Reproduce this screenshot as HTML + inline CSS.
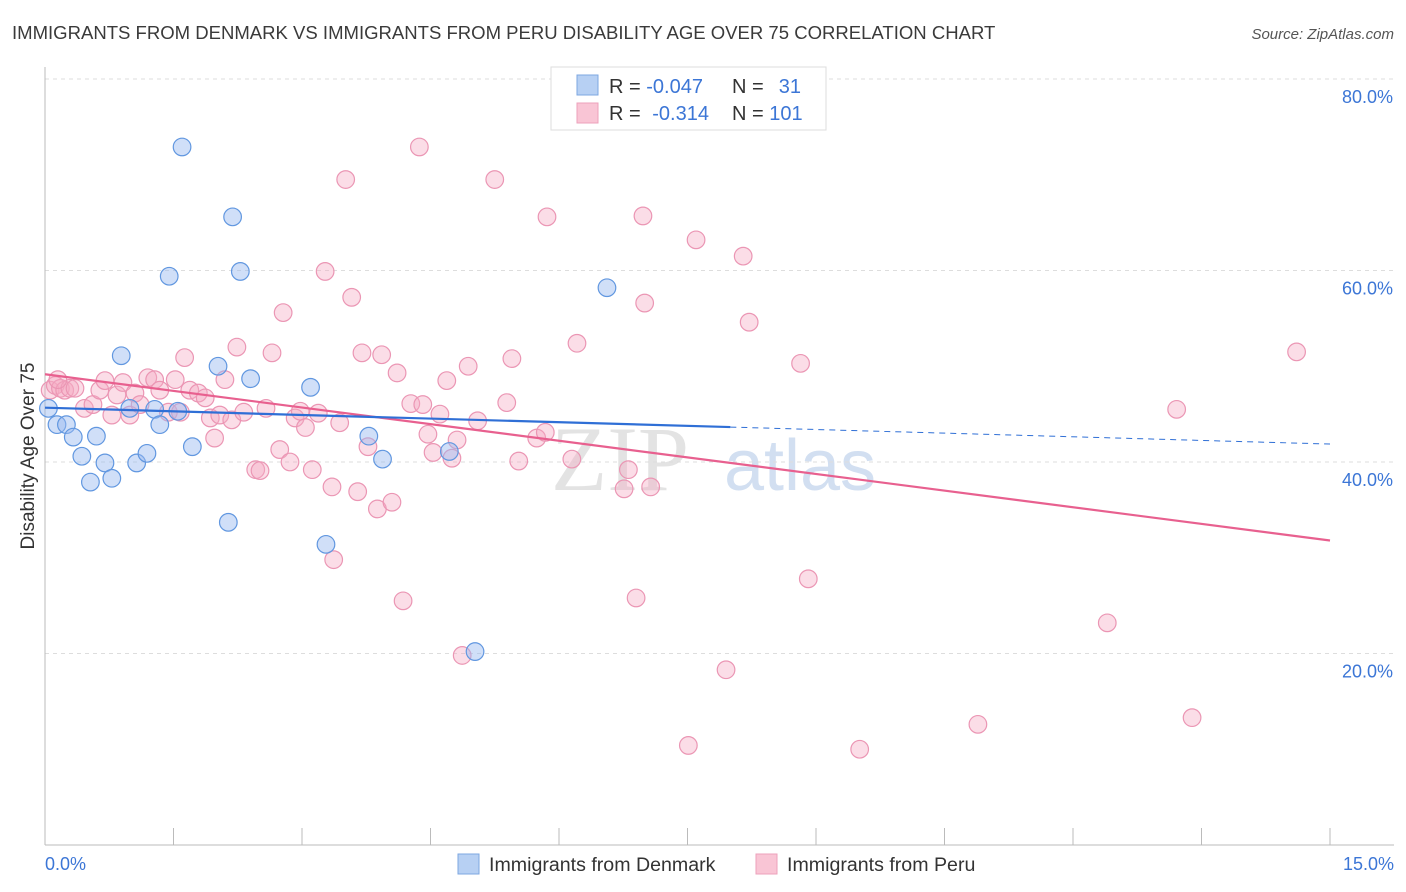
<!DOCTYPE html>
<html><head><meta charset="utf-8"><style>
body{margin:0;background:#fff;font-family:"Liberation Sans",sans-serif;}
svg{display:block}
</style></head><body>
<svg id="chart" width="1406" height="892">
<text x="12" y="39" font-size="18.55" fill="#3a3a3a">IMMIGRANTS FROM DENMARK VS IMMIGRANTS FROM PERU DISABILITY AGE OVER 75 CORRELATION CHART</text>
<text x="1394" y="39" font-size="15" fill="#555" text-anchor="end" font-style="italic">Source: ZipAtlas.com</text>
<text x="34" y="456" font-size="19" fill="#333" text-anchor="middle" transform="rotate(-90 34 456)">Disability Age Over 75</text>
<g><text x="620" y="490" font-size="92" fill="#ddd" text-anchor="middle" font-family="Liberation Serif,serif" opacity="0.8">ZIP</text><text x="800" y="490" font-size="72" fill="#c8d8ee" text-anchor="middle" opacity="0.8">atlas</text></g>
<g id="grid"></g><g id="axes"></g><g id="pts"></g><g id="lines"></g>
<g>
<rect x="551" y="67" width="275" height="63" fill="#fff" stroke="#ddd"/>
<rect x="577" y="75" width="21" height="20" fill="#b7d0f3" stroke="#7ea7e0"/>
<rect x="577" y="103" width="21" height="20" fill="#f9c5d5" stroke="#eda1bb"/>
<text x="609" y="93" font-size="20" fill="#333">R = <tspan fill="#3c76d6">-0.047</tspan></text>
<text x="732" y="93" font-size="20" fill="#333">N = </text><text x="801" y="93" font-size="20" fill="#3c76d6" text-anchor="end">31</text>
<text x="609" y="120" font-size="20" fill="#333">R = <tspan fill="#3c76d6" dx="6">-0.314</tspan></text>
<text x="732" y="120" font-size="20" fill="#333">N = <tspan fill="#3c76d6">101</tspan></text>
</g>
<g>
<rect x="458" y="854" width="21" height="20" fill="#b7d0f3" stroke="#7ea7e0"/>
<text x="489" y="871" font-size="19.6" fill="#333">Immigrants from Denmark</text>
<rect x="756" y="854" width="21" height="20" fill="#f9c5d5" stroke="#eda1bb"/>
<text x="787" y="871" font-size="19.6" fill="#333">Immigrants from Peru</text>
</g>
</svg>
<script>
const yTicks=[20,40,60,80];
const yTickLabels=["20.0%","40.0%","60.0%","80.0%"];
const xTickLabels=["0.0%","15.0%"];
const denmarkX=[0.14,0.25,0.33,0.43,0.53,0.60,0.70,0.78,0.89,0.99,1.07,1.19,1.28,1.34,1.45,1.55,1.60,1.72,2.02,2.14,2.19,2.28,2.40,3.10,3.28,3.78,3.94,4.72,5.02,6.56,0.04];
const denmarkY=[43.9,43.9,42.6,40.6,37.9,42.7,39.9,38.3,51.1,45.6,39.9,40.9,45.5,43.9,59.4,45.3,72.9,41.6,50.0,33.7,65.6,59.9,48.7,47.8,31.4,42.7,40.3,41.1,20.2,58.2,45.6];
const peruX=[0.06,0.12,0.18,0.23,0.29,0.35,0.15,0.46,0.56,0.64,0.70,0.78,0.84,0.91,0.99,1.05,1.11,1.20,1.28,1.34,1.44,1.52,1.58,1.63,1.69,1.79,1.87,1.93,1.98,2.04,2.10,2.18,2.24,2.32,2.46,2.51,2.58,2.65,2.74,2.78,2.86,2.92,2.98,3.04,3.12,3.19,3.27,3.35,3.37,3.44,3.51,3.58,3.65,3.70,3.77,3.88,3.93,4.05,4.11,4.18,4.27,4.37,4.41,4.47,4.53,4.61,4.69,4.75,4.81,4.87,4.94,5.05,5.25,5.39,5.45,5.53,5.74,5.84,5.86,6.15,6.21,6.76,6.81,6.90,6.98,7.00,7.07,7.51,7.60,7.95,8.15,8.22,8.82,8.91,9.51,10.89,12.40,13.21,13.39,14.61];
const peruY=[47.5,48.0,47.7,47.5,47.7,47.7,48.6,45.6,46.0,47.5,48.5,44.9,47.0,48.3,44.9,47.2,46.0,48.8,48.6,47.5,45.2,48.6,45.2,50.9,47.5,47.2,46.7,44.6,42.5,44.9,48.6,44.4,52.0,45.2,39.2,39.1,45.6,51.4,41.3,55.6,40.0,44.6,45.3,43.6,39.2,45.1,59.9,37.4,29.8,44.1,69.5,57.2,36.9,51.4,41.6,35.1,51.2,35.8,49.3,25.5,46.1,72.9,46.0,42.9,41.0,45.0,48.5,40.4,42.3,19.8,50.0,44.3,69.5,46.2,50.8,40.1,42.5,43.1,65.6,40.3,52.4,37.2,39.2,25.8,65.7,56.6,37.4,10.4,63.2,18.3,61.5,54.6,50.3,27.8,10.0,12.6,23.2,45.5,13.3,51.5];
const NS="http://www.w3.org/2000/svg";
const X0=45,X1=1330,Y0=845,PXPER=191.5/20;
const sx=v=>X0+(v/15)*(X1-X0);
const sy=v=>Y0-v*PXPER;
function mk(tag,attrs,parent){const e=document.createElementNS(NS,tag);for(const k in attrs)e.setAttribute(k,attrs[k]);parent.appendChild(e);return e;}
const grid=document.getElementById('grid'),axes=document.getElementById('axes'),pts=document.getElementById('pts'),lines=document.getElementById('lines');
yTicks.forEach((t,i)=>{
 const l=mk('line',{x1:X0,x2:1394,y1:sy(t),y2:sy(t),stroke:'#ddd','stroke-dasharray':'4 4'},grid);
 
 
 const tx=mk('text',{x:1393,y:sy(t)+24,'font-size':18,fill:'#3c76d6','text-anchor':'end'},grid);
 tx.textContent=yTickLabels[i];
 
 
});
let a=mk('line',{x1:X0,x2:X0,y1:67,y2:Y0,stroke:'#bbb'},axes);


a=mk('line',{x1:X0,x2:1394,y1:Y0,y2:Y0,stroke:'#bbb'},axes);


for(let i=0;i<=10;i++){
 const v=i*1.5;
 const t=mk('line',{x1:sx(v),x2:sx(v),y1:828,y2:Y0,stroke:'#bbb'},axes);
 
 
}
[[0,'start',45],[15,'end',1394]].forEach((d,i)=>{
 const t=mk('text',{x:d[2],y:870,'font-size':18,fill:'#3c76d6','text-anchor':d[1]},axes);
 t.textContent=xTickLabels[i];
 
 
});
function dots(xs,ys,fill,stroke,name){
 xs.forEach((x,i)=>{
  const c=mk('circle',{cx:sx(x),cy:sy(ys[i]),r:8.8,fill:fill,stroke:stroke,'stroke-width':1.2},pts);
  
  
 });
}
dots(peruX,peruY,'rgba(246,170,196,0.4)','#eb96b4','point-peru');
dots(denmarkX,denmarkY,'rgba(150,185,240,0.45)','#6197e0','point-denmark');
function fit(xs,ys){const n=xs.length;let mx=0,my=0;xs.forEach((x,i)=>{mx+=x;my+=ys[i];});mx/=n;my/=n;let sxy=0,sxx=0;xs.forEach((x,i)=>{sxy+=(x-mx)*(ys[i]-my);sxx+=(x-mx)**2;});const b=sxy/sxx;return [my-b*mx,b];}
const [pa,pb]=fit(peruX,peruY);
let l=mk('line',{x1:sx(0),y1:sy(pa),x2:sx(15),y2:sy(pa+pb*15),stroke:'#e8608f','stroke-width':2.2},lines);


const [da,db]=fit(denmarkX,denmarkY);
const xe=8.0;
l=mk('line',{x1:sx(0),y1:sy(da),x2:sx(xe),y2:sy(da+db*xe),stroke:'#2f6fd6','stroke-width':2.2},lines);


l=mk('line',{x1:sx(xe),y1:sy(da+db*xe),x2:sx(15),y2:sy(da+db*15),stroke:'#2f6fd6','stroke-width':1,'stroke-dasharray':'6 5'},lines);


</script>
</body></html>
